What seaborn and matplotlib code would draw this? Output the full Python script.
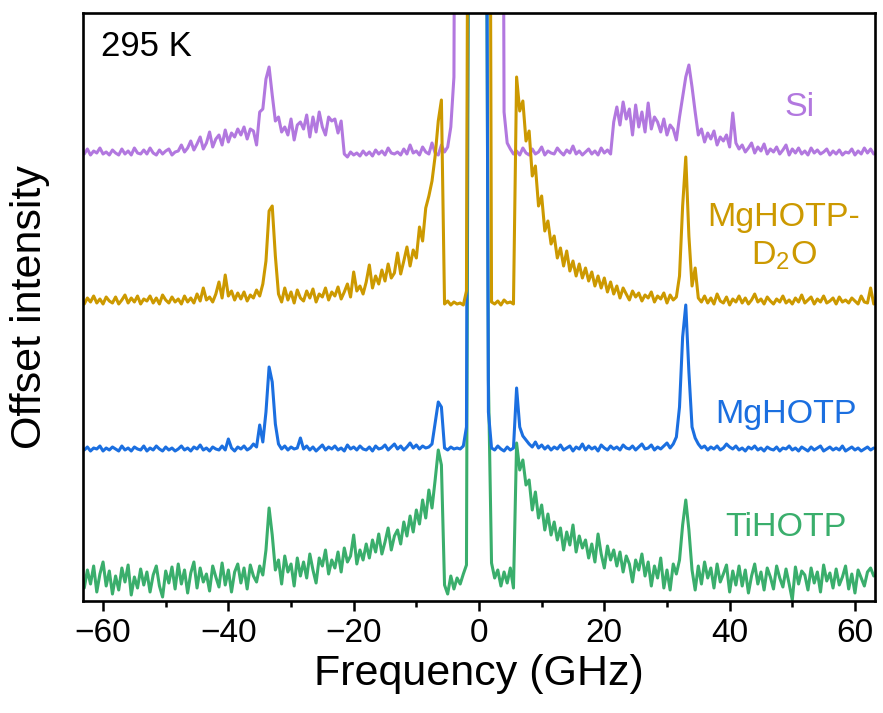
import numpy as np
import pandas as pd
import matplotlib
matplotlib.use("Agg")
import matplotlib.pyplot as plt
from matplotlib.ticker import MultipleLocator
import seaborn as sns

# Frequency grid (GHz), 0.5 GHz steps from -63 to 63
freq = np.round(np.arange(-63.0, 63.0 + 0.25, 0.5), 1)

# Heights above each trace's own baseline (plot units).
# 999 marks the central (elastic) peak which runs off the top of the frame.
si = [
    3, 8, 2, 6, 4, 9, 3, 5, 2, 7,
    4, 2, 8, 3, 6, 2, 9, 4, 3, 7,
    3, 9, 4, 2, 7, 3, 6, 8, 2, 5,
    6, 12, 5, 9, 16, 7, 13, 20, 8, 14,
    25, 10, 18, 22, 12, 27, 15, 24, 20, 28,
    22, 30, 18, 28, 26, 12, 45, 48, 78, 90,
    62, 36, 40, 25, 30, 22, 38, 17, 32, 35,
    28, 42, 20, 40, 25, 45, 30, 22, 40, 36,
    38, 24, 36, 3, 0, 5, 2, 4, 1, 6,
    2, 5, 1, 7, 3, 6, 2, 9, 4, 3,
    5, 2, 8, 3, 12, 4, 6, 2, 10, 5,
    3, 14, 4, 2, 12, 5, 10, 30, 80, 999,
    999, 999, 999, 999, 999, 999, 999, 999, 999, 999,
    999, 999, 999, 999, 45, 14, 8, 3, 6, 2,
    9, 4, 2, 8, 3, 5, 10, 2, 6, 4,
    3, 9, 5, 2, 7, 4, 11, 3, 6, 2,
    5, 8, 3, 6, 2, 9, 4, 7, 3, 35,
    50, 32, 55, 38, 48, 22, 52, 30, 45, 25,
    54, 28, 40, 35, 25, 38, 22, 32, 28, 17,
    40, 60, 80, 92, 70, 45, 22, 28, 15, 24,
    18, 26, 12, 20, 16, 22, 10, 44, 14, 8,
    12, 5, 9, 14, 4, 10, 6, 13, 3, 8,
    5, 10, 3, 7, 12, 2, 8, 4, 9, 3,
    6, 2, 9, 4, 7, 3, 5, 8, 2, 6,
    3, 7, 2, 5, 4, 8, 2, 6, 3, 9,
    4, 8, 3,
]

mghotp_d2o = [
    2, 8, 4, 10, 3, 7, 2, 9, 5, 3,
    9, 2, 6, 11, 3, 8, 4, 10, 2, 7,
    5, 10, 3, 8, 2, 11, 6, 3, 9, 4,
    7, 2, 10, 4, 8, 3, 12, 5, 18, 6,
    9, 4, 12, 24, 8, 31, 10, 15, 6, 13,
    7, 14, 5, 11, 8, 16, 10, 22, 45, 95,
    100, 50, 12, 4, 18, 6, 14, 3, 16, 8,
    5, 15, 8, 17, 4, 12, 9, 18, 6, 14,
    10, 19, 7, 14, 22, 9, 34, 15, 20, 12,
    24, 41, 18, 30, 22, 36, 25, 42, 28, 33,
    53, 32, 45, 59, 40, 56, 48, 79, 65, 98,
    110, 125, 150, 185, 206, 2, 5, 1, 4, 2,
    3, 1, 15, 999, 999, 999, 999, 999, 999, 999,
    4, 2, 5, 1, 6, 3, 4, 2, 229, 195,
    205, 165, 175, 130, 140, 100, 110, 75, 85, 62,
    70, 48, 58, 40, 55, 35, 45, 30, 42, 28,
    38, 25, 34, 20, 30, 18, 28, 14, 24, 12,
    20, 8, 18, 12, 6, 15, 9, 13, 5, 11,
    8, 14, 4, 10, 7, 13, 3, 11, 6, 9,
    30, 100, 149, 70, 20, 38, 8, 4, 10, 3,
    8, 2, 12, 5, 3, 9, 1, 7, 4, 10,
    3, 8, 2, 6, 12, 4, 7, 2, 9, 5,
    2, 7, 4, 10, 3, 6, 2, 8, 4, 11,
    3, 6, 9, 2, 7, 4, 10, 3, 5, 8,
    2, 9, 4, 6, 3, 8, 5, 2, 10, 4,
    3, 18, 2,
]

mghotp = [
    2, 5, 1, 4, 3, 6, 1, 4, 2, 5,
    3, 1, 6, 2, 4, 1, 5, 3, 2, 6,
    1, 4, 2, 6, 3, 1, 5, 2, 4, 1,
    3, 6, 2, 4, 1, 5, 3, 7, 2, 4,
    1, 5, 3, 2, 6, 2, 13, 4, 1, 5,
    3, 6, 2, 4, 8, 5, 27, 10, 40, 85,
    70, 28, 8, 3, 6, 2, 5, 3, 4, 14,
    3, 6, 2, 5, 1, 4, 7, 2, 5, 3,
    6, 2, 4, 1, 7, 3, 5, 2, 6, 3,
    2, 5, 1, 6, 3, 4, 7, 2, 5, 8,
    3, 6, 2, 5, 9, 4, 7, 3, 6, 4,
    5, 8, 29, 50, 45, 4, 2, 5, 3, 4,
    3, 6, 25, 999, 999, 999, 999, 999, 999, 40,
    4, 2, 6, 3, 1, 5, 2, 4, 64, 25,
    16, 12, 8, 5, 10, 4, 7, 3, 6, 2,
    5, 3, 7, 2, 4, 6, 1, 5, 3, 8,
    2, 6, 3, 5, 1, 7, 4, 2, 6, 3,
    5, 2, 7, 4, 3, 6, 2, 5, 8, 3,
    4, 7, 2, 5, 3, 6, 9, 4, 8, 15,
    45, 115, 147, 80, 25, 14, 8, 4, 6, 2,
    5, 3, 6, 2, 4, 8, 5, 3, 6, 2,
    4, 1, 5, 3, 6, 2, 4, 1, 5, 3,
    2, 5, 1, 4, 3, 6, 2, 4, 1, 5,
    3, 1, 5, 2, 4, 6, 1, 3, 5, 2,
    4, 2, 6, 1, 3, 5, 2, 4, 1, 3,
    5, 2, 4,
]

tihotp = [
    -8, 10, -4, 14, -12, 6, 18, -6, 9, -14,
    4, -10, 12, -2, 15, -15, 3, -8, 11, -5,
    8, -12, 5, 14, -6, -17, 9, -3, 13, -9,
    16, -4, 10, -13, 7, 18, -8, 12, -2, 6,
    -11, 14, 3, -7, 17, -5, 10, -12, 8, 16,
    -3, 12, -9, 15, 4, -2, 14, 5, 30, 72,
    45, 10, 20, -4, 24, 8, 16, -6, 22, 4,
    18, 2, 26, 10, -3, 22, 14, 30, 6, 20,
    12, 28, 8, 32, 18, 24, 45, 16, 30, 20,
    36, 22, 40, 28, 46, 26, 38, 52, 30, 44,
    50, 36, 58, 44, 64, 48, 70, 56, 80, 62,
    90, 72, 100, 130, 115, -5, -14, 4, -9, 2,
    -4, 6, 15, 999, 999, 999, 999, 999, 999, 200,
    17, 2, 10, -6, 8, -3, 12, -8, 137, 110,
    120, 95, 100, 70, 88, 62, 75, 50, 66, 45,
    58, 40, 52, 30, 48, 35, 55, 28, 44, 32,
    40, 22, 36, 18, 46, 26, 12, 34, 20, 30,
    14, 28, 8, 24, 16, -2, 20, 10, 26, 4,
    18, -6, 14, 2, 22, -8, 10, -10, 16, 6,
    20, 55, 80, 50, 10, -10, 14, -4, 18, 2,
    12, -8, 16, -2, 6, 15, -12, 9, -5, 14,
    -6, 10, -13, 4, 16, -4, 8, -10, 12, 3,
    -9, 14, 2, -7, 11, -4, -20, 13, -4, 9,
    5, -10, 12, -3, 8, -12, 15, -1, 7, -8,
    11, -5, 3, 14, -9, 6, -13, 10, 2, -6,
    8, 12, 4,
]

names = ["Si", "TiHOTP", "MgHOTP", "MgHOTP-D2O"]
offsets = {"Si": 444, "MgHOTP-D2O": 295, "MgHOTP": 149, "TiHOTP": 21}
series = {"Si": si, "MgHOTP-D2O": mghotp_d2o, "MgHOTP": mghotp, "TiHOTP": tihotp}
colors = {"Si": "#b278df", "MgHOTP-D2O": "#cc9900", "MgHOTP": "#1b6fe0", "TiHOTP": "#3aae6c"}

frames = []
for n in names:
    vals = np.asarray(series[n], dtype=float)
    assert len(vals) == len(freq), (n, len(vals))
    frames.append(pd.DataFrame({"freq": freq, "intensity": vals + offsets[n], "sample": n}))
df = pd.concat(frames, ignore_index=True)

sns.set_style("ticks")
plt.rcParams["font.family"] = ["Liberation Sans", "DejaVu Sans"]
plt.rcParams["mathtext.fontset"] = "custom"
plt.rcParams["mathtext.rm"] = "Liberation Sans"
plt.rcParams["mathtext.it"] = "Liberation Sans:italic"
plt.rcParams["text.color"] = "black"
plt.rcParams["axes.labelcolor"] = "black"
plt.rcParams["xtick.color"] = "black"
plt.rcParams["xtick.labelcolor"] = "black"
plt.rcParams["axes.edgecolor"] = "black"

fig = plt.figure(figsize=(8.83, 7.13), dpi=100)
ax = fig.add_axes([83 / 883, 112 / 713, 792 / 883, 588 / 713])

sns.lineplot(data=df, x="freq", y="intensity", hue="sample", hue_order=names,
             palette=colors, estimator=None, sort=False, linewidth=2.2,
             legend=False, ax=ax)

ax.set_xlim(-63.2, 63.2)
ax.set_ylim(0, 588)
ax.set_xticks(np.arange(-60, 61, 20))
ax.xaxis.set_minor_locator(MultipleLocator(10))
ax.set_yticks([])
ax.tick_params(axis="x", which="major", direction="out", length=7, width=1.8,
               labelsize=24, pad=5, color="black", labelcolor="black")
ax.tick_params(axis="x", which="minor", direction="out", length=4, width=1.8,
               color="black")
for sp in ax.spines.values():
    sp.set_linewidth(1.9)
    sp.set_color("black")
    sp.set_visible(True)

ax.set_xlabel("Frequency (GHz)", fontsize=31, labelpad=4, color="black")
ax.set_ylabel("Offset intensity", fontsize=31, labelpad=24, color="black")

ax.text(-60.4, 554, "295 K", fontsize=25, ha="left", va="center", color="black")
ax.text(51.2, 494, "Si", fontsize=24.5, ha="center", va="center", color=colors["Si"])
ax.text(48.6, 364, "MgHOTP-\nD$_2$O", fontsize=24.5, ha="center", va="center",
        multialignment="center", linespacing=1.3, color=colors["MgHOTP-D2O"])
ax.text(49.0, 186, "MgHOTP", fontsize=24.5, ha="center", va="center", color=colors["MgHOTP"])
ax.text(49.0, 73, "TiHOTP", fontsize=24.5, ha="center", va="center", color=colors["TiHOTP"])

fig.savefig("out.png", dpi=100)
